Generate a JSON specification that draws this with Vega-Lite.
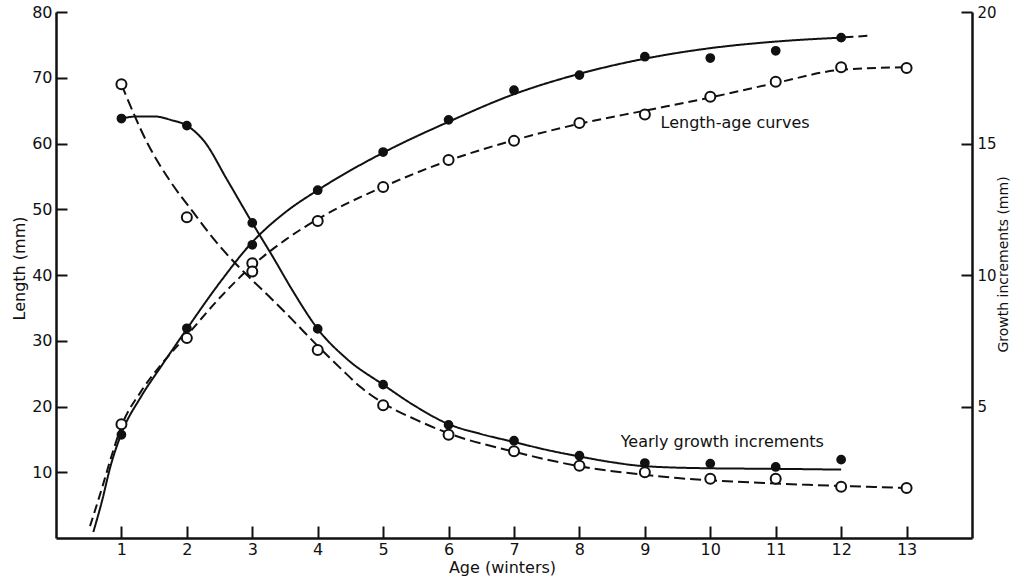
{
  "$schema": "https://vega.github.io/schema/vega-lite/v6.json",
  "width": 916,
  "height": 526,
  "autosize": {"type": "none"},
  "padding": {"left": 56, "top": 12, "right": 40, "bottom": 46},
  "background": "white",
  "view": {"stroke": null},
  "config": {
    "font": "DejaVu Sans",
    "axis": {
      "labelFont": "DejaVu Sans",
      "titleFont": "DejaVu Sans",
      "labelFontSize": 16,
      "titleFontSize": 16,
      "titleFontWeight": "normal",
      "labelColor": "#111",
      "titleColor": "#111",
      "domainColor": "#111",
      "tickColor": "#111",
      "domainWidth": 2.5,
      "tickWidth": 2,
      "grid": false
    }
  },
  "datasets": {
    "lenpts": [
      {"age": 1, "len": 15.7, "kind": "filled"},
      {"age": 2, "len": 31.9, "kind": "filled"},
      {"age": 3, "len": 44.6, "kind": "filled"},
      {"age": 4, "len": 52.9, "kind": "filled"},
      {"age": 5, "len": 58.7, "kind": "filled"},
      {"age": 6, "len": 63.6, "kind": "filled"},
      {"age": 7, "len": 68.1, "kind": "filled"},
      {"age": 8, "len": 70.4, "kind": "filled"},
      {"age": 9, "len": 73.2, "kind": "filled"},
      {"age": 10, "len": 73.0, "kind": "filled"},
      {"age": 11, "len": 74.1, "kind": "filled"},
      {"age": 12, "len": 76.1, "kind": "filled"},
      {"age": 1, "len": 17.3, "kind": "open"},
      {"age": 2, "len": 30.4, "kind": "open"},
      {"age": 3, "len": 41.8, "kind": "open"},
      {"age": 4, "len": 48.2, "kind": "open"},
      {"age": 5, "len": 53.4, "kind": "open"},
      {"age": 6, "len": 57.5, "kind": "open"},
      {"age": 7, "len": 60.4, "kind": "open"},
      {"age": 8, "len": 63.1, "kind": "open"},
      {"age": 9, "len": 64.4, "kind": "open"},
      {"age": 10, "len": 67.1, "kind": "open"},
      {"age": 11, "len": 69.4, "kind": "open"},
      {"age": 12, "len": 71.6, "kind": "open"},
      {"age": 13, "len": 71.5, "kind": "open"}
    ],
    "grpts": [
      {"age": 1, "inc": 15.95, "kind": "filled"},
      {"age": 2, "inc": 15.68, "kind": "filled"},
      {"age": 3, "inc": 11.98, "kind": "filled"},
      {"age": 4, "inc": 7.95, "kind": "filled"},
      {"age": 5, "inc": 5.83, "kind": "filled"},
      {"age": 6, "inc": 4.3, "kind": "filled"},
      {"age": 7, "inc": 3.7, "kind": "filled"},
      {"age": 8, "inc": 3.13, "kind": "filled"},
      {"age": 9, "inc": 2.85, "kind": "filled"},
      {"age": 10, "inc": 2.83, "kind": "filled"},
      {"age": 11, "inc": 2.7, "kind": "filled"},
      {"age": 12, "inc": 2.98, "kind": "filled"},
      {"age": 1, "inc": 17.25, "kind": "open"},
      {"age": 2, "inc": 12.2, "kind": "open"},
      {"age": 3, "inc": 10.13, "kind": "open"},
      {"age": 4, "inc": 7.15, "kind": "open"},
      {"age": 5, "inc": 5.05, "kind": "open"},
      {"age": 6, "inc": 3.93, "kind": "open"},
      {"age": 7, "inc": 3.3, "kind": "open"},
      {"age": 8, "inc": 2.75, "kind": "open"},
      {"age": 9, "inc": 2.5, "kind": "open"},
      {"age": 10, "inc": 2.25, "kind": "open"},
      {"age": 11, "inc": 2.25, "kind": "open"},
      {"age": 12, "inc": 1.95, "kind": "open"},
      {"age": 13, "inc": 1.9, "kind": "open"}
    ],
    "lencurve": [
      {"age": 0.57, "len": 0.9, "curve": "s", "style": "solid"},
      {"age": 0.7, "len": 5.5, "curve": "s", "style": "solid"},
      {"age": 0.83, "len": 10.8, "curve": "s", "style": "solid"},
      {"age": 1, "len": 15.9, "curve": "s", "style": "solid"},
      {"age": 1.3, "len": 21.5, "curve": "s", "style": "solid"},
      {"age": 1.6, "len": 26, "curve": "s", "style": "solid"},
      {"age": 2, "len": 31.8, "curve": "s", "style": "solid"},
      {"age": 2.5, "len": 38.8, "curve": "s", "style": "solid"},
      {"age": 3, "len": 45, "curve": "s", "style": "solid"},
      {"age": 3.5, "len": 49.5, "curve": "s", "style": "solid"},
      {"age": 4, "len": 52.9, "curve": "s", "style": "solid"},
      {"age": 5, "len": 58.6, "curve": "s", "style": "solid"},
      {"age": 6, "len": 63.3, "curve": "s", "style": "solid"},
      {"age": 7, "len": 67.5, "curve": "s", "style": "solid"},
      {"age": 8, "len": 70.6, "curve": "s", "style": "solid"},
      {"age": 9, "len": 72.9, "curve": "s", "style": "solid"},
      {"age": 10, "len": 74.5, "curve": "s", "style": "solid"},
      {"age": 11, "len": 75.5, "curve": "s", "style": "solid"},
      {"age": 12, "len": 76.1, "curve": "s", "style": "solid"},
      {"age": 12.05, "len": 76.15, "curve": "t", "style": "dashed"},
      {"age": 12.45, "len": 76.4, "curve": "t", "style": "dashed"},
      {"age": 0.52, "len": 1.8, "curve": "d", "style": "dashed"},
      {"age": 0.7, "len": 7.5, "curve": "d", "style": "dashed"},
      {"age": 0.85, "len": 12.5, "curve": "d", "style": "dashed"},
      {"age": 1, "len": 17, "curve": "d", "style": "dashed"},
      {"age": 1.3, "len": 22.3, "curve": "d", "style": "dashed"},
      {"age": 1.6, "len": 26.3, "curve": "d", "style": "dashed"},
      {"age": 2, "len": 30.8, "curve": "d", "style": "dashed"},
      {"age": 2.5, "len": 36.5, "curve": "d", "style": "dashed"},
      {"age": 3, "len": 41.4, "curve": "d", "style": "dashed"},
      {"age": 3.5, "len": 45.3, "curve": "d", "style": "dashed"},
      {"age": 4, "len": 48.5, "curve": "d", "style": "dashed"},
      {"age": 5, "len": 53.4, "curve": "d", "style": "dashed"},
      {"age": 6, "len": 57.4, "curve": "d", "style": "dashed"},
      {"age": 7, "len": 60.5, "curve": "d", "style": "dashed"},
      {"age": 8, "len": 63, "curve": "d", "style": "dashed"},
      {"age": 9, "len": 65, "curve": "d", "style": "dashed"},
      {"age": 10, "len": 67, "curve": "d", "style": "dashed"},
      {"age": 11, "len": 69.2, "curve": "d", "style": "dashed"},
      {"age": 12, "len": 71.2, "curve": "d", "style": "dashed"},
      {"age": 13, "len": 71.6, "curve": "d", "style": "dashed"}
    ],
    "grcurve": [
      {"age": 1, "inc": 15.95, "curve": "s", "style": "solid"},
      {"age": 1.25, "inc": 16.03, "curve": "s", "style": "solid"},
      {"age": 1.5, "inc": 16.03, "curve": "s", "style": "solid"},
      {"age": 1.75, "inc": 15.9, "curve": "s", "style": "solid"},
      {"age": 2, "inc": 15.68, "curve": "s", "style": "solid"},
      {"age": 2.26, "inc": 15.1, "curve": "s", "style": "solid"},
      {"age": 2.62, "inc": 13.6, "curve": "s", "style": "solid"},
      {"age": 3, "inc": 11.98, "curve": "s", "style": "solid"},
      {"age": 3.3, "inc": 10.75, "curve": "s", "style": "solid"},
      {"age": 3.63, "inc": 9.35, "curve": "s", "style": "solid"},
      {"age": 4, "inc": 7.95, "curve": "s", "style": "solid"},
      {"age": 4.45, "inc": 6.8, "curve": "s", "style": "solid"},
      {"age": 5, "inc": 5.83, "curve": "s", "style": "solid"},
      {"age": 5.5, "inc": 5.0, "curve": "s", "style": "solid"},
      {"age": 6, "inc": 4.33, "curve": "s", "style": "solid"},
      {"age": 6.5, "inc": 3.95, "curve": "s", "style": "solid"},
      {"age": 7, "inc": 3.65, "curve": "s", "style": "solid"},
      {"age": 7.5, "inc": 3.35, "curve": "s", "style": "solid"},
      {"age": 8, "inc": 3.1, "curve": "s", "style": "solid"},
      {"age": 8.5, "inc": 2.88, "curve": "s", "style": "solid"},
      {"age": 9, "inc": 2.73, "curve": "s", "style": "solid"},
      {"age": 10, "inc": 2.65, "curve": "s", "style": "solid"},
      {"age": 11, "inc": 2.63, "curve": "s", "style": "solid"},
      {"age": 12, "inc": 2.6, "curve": "s", "style": "solid"},
      {"age": 1, "inc": 17.25, "curve": "d", "style": "dashed"},
      {"age": 1.4, "inc": 15.0, "curve": "d", "style": "dashed"},
      {"age": 1.75, "inc": 13.55, "curve": "d", "style": "dashed"},
      {"age": 2.1, "inc": 12.38, "curve": "d", "style": "dashed"},
      {"age": 2.4, "inc": 11.4, "curve": "d", "style": "dashed"},
      {"age": 2.7, "inc": 10.55, "curve": "d", "style": "dashed"},
      {"age": 3, "inc": 9.8, "curve": "d", "style": "dashed"},
      {"age": 3.3, "inc": 9.08, "curve": "d", "style": "dashed"},
      {"age": 3.6, "inc": 8.33, "curve": "d", "style": "dashed"},
      {"age": 4, "inc": 7.3, "curve": "d", "style": "dashed"},
      {"age": 4.35, "inc": 6.45, "curve": "d", "style": "dashed"},
      {"age": 4.65, "inc": 5.75, "curve": "d", "style": "dashed"},
      {"age": 5, "inc": 5.13, "curve": "d", "style": "dashed"},
      {"age": 5.5, "inc": 4.5, "curve": "d", "style": "dashed"},
      {"age": 6, "inc": 3.98, "curve": "d", "style": "dashed"},
      {"age": 7, "inc": 3.28, "curve": "d", "style": "dashed"},
      {"age": 8, "inc": 2.73, "curve": "d", "style": "dashed"},
      {"age": 9, "inc": 2.4, "curve": "d", "style": "dashed"},
      {"age": 9.5, "inc": 2.28, "curve": "d", "style": "dashed"},
      {"age": 10.5, "inc": 2.13, "curve": "d", "style": "dashed"},
      {"age": 11.5, "inc": 2.02, "curve": "d", "style": "dashed"},
      {"age": 12.5, "inc": 1.94, "curve": "d", "style": "dashed"},
      {"age": 13, "inc": 1.9, "curve": "d", "style": "dashed"}
    ],
    "notes": [
      {"age": 9.24, "len": 63.1, "label": "Length-age curves"},
      {"age": 8.63, "len": 14.6, "label": "Yearly growth increments"}
    ]
  },
  "encoding": {
    "x": {
      "field": "age",
      "type": "quantitative",
      "scale": {"domain": [0, 14], "nice": false, "zero": false},
      "axis": {
        "title": "Age (winters)",
        "values": [1, 2, 3, 4, 5, 6, 7, 8, 9, 10, 11, 12, 13],
        "tickSize": -12,
        "labelPadding": 15,
        "titlePadding": 2,
        "titleX": 446
      }
    }
  },
  "layer": [
    {
      "encoding": {
        "y": {
          "field": "len",
          "type": "quantitative",
          "scale": {"domain": [0, 80], "nice": false},
          "axis": {
            "orient": "left",
            "title": "Length (mm)",
            "values": [10, 20, 30, 40, 50, 60, 70, 80],
            "tickSize": -11,
            "labelPadding": 15,
            "titlePadding": 4,
            "titleY": 256
          }
        }
      },
      "layer": [
        {
          "data": {"name": "lencurve"},
          "mark": {"type": "line", "interpolate": "monotone", "color": "#111", "strokeWidth": 2},
          "encoding": {
            "detail": {"field": "curve"},
            "strokeDash": {"field": "style", "type": "nominal", "scale": {"domain": ["solid", "dashed"], "range": [[1, 0], [9, 5]]}, "legend": null}
          }
        },
        {
          "data": {"name": "lenpts"},
          "mark": {"type": "point", "shape": "circle", "strokeWidth": 2, "stroke": "#111", "filled": true},
          "encoding": {
            "fill": {"field": "kind", "type": "nominal", "scale": {"domain": ["filled", "open"], "range": ["#111", "white"]}, "legend": null},
            "size": {"field": "kind", "type": "nominal", "scale": {"domain": ["filled", "open"], "range": [60, 100]}, "legend": null},
            "opacity": {"value": 1}
          }
        },
        {
          "data": {"name": "notes"},
          "mark": {"type": "text", "align": "left", "baseline": "middle", "font": "DejaVu Sans", "fontSize": 16, "color": "#111"},
          "encoding": {"text": {"field": "label"}}
        }
      ]
    },
    {
      "encoding": {
        "y": {
          "field": "inc",
          "type": "quantitative",
          "scale": {"domain": [0, 20], "nice": false},
          "axis": {
            "orient": "right",
            "title": "Growth increments (mm)",
            "titleAngle": 270,
            "titleFontSize": 14,
            "labelFontSize": 15,
            "values": [5, 10, 15, 20],
            "tickSize": -11,
            "labelPadding": 16,
            "titlePadding": 14,
            "titleY": 252
          }
        }
      },
      "layer": [
        {
          "data": {"name": "grcurve"},
          "mark": {"type": "line", "interpolate": "monotone", "color": "#111", "strokeWidth": 2},
          "encoding": {
            "detail": {"field": "curve"},
            "strokeDash": {"field": "style", "type": "nominal", "scale": {"domain": ["solid", "dashed"], "range": [[1, 0], [11, 5]]}, "legend": null}
          }
        },
        {
          "data": {"name": "grpts"},
          "mark": {"type": "point", "shape": "circle", "strokeWidth": 2, "stroke": "#111", "filled": true},
          "encoding": {
            "fill": {"field": "kind", "type": "nominal", "scale": {"domain": ["filled", "open"], "range": ["#111", "white"]}, "legend": null},
            "size": {"field": "kind", "type": "nominal", "scale": {"domain": ["filled", "open"], "range": [60, 100]}, "legend": null},
            "opacity": {"value": 1}
          }
        }
      ]
    }
  ],
  "resolve": {"scale": {"y": "independent", "strokeDash": "independent"}}
}
